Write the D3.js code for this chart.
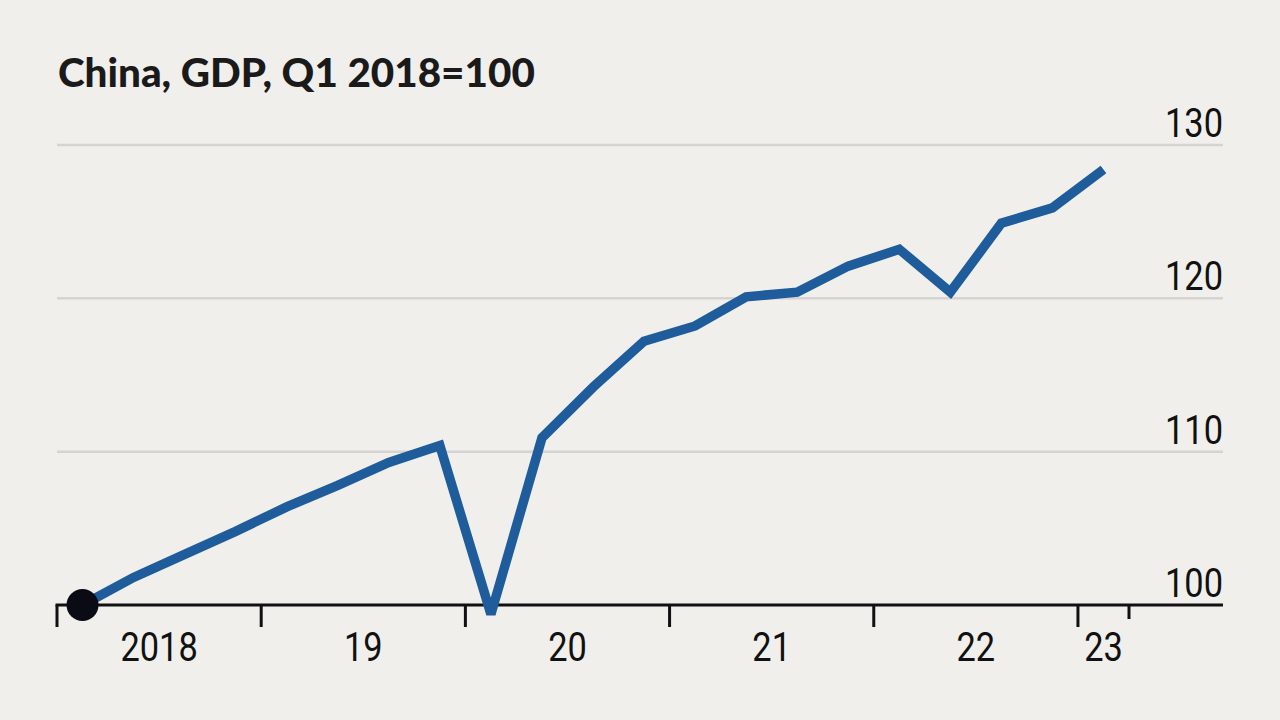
<!DOCTYPE html>
<html>
<head>
<meta charset="utf-8">
<script src="https://cdn.jsdelivr.net/npm/d3@7"></script>
<style>
  html, body { margin: 0; padding: 0; background: #f0efec; }
  svg { display: block; }
</style>
</head>
<body>
<svg id="chart" width="1280" height="720"></svg>
<script>
// ---- data ----
const title = "China, GDP, Q1 2018=100";
const quarters = ["Q1 2018","Q2 2018","Q3 2018","Q4 2018",
                  "Q1 2019","Q2 2019","Q3 2019","Q4 2019",
                  "Q1 2020","Q2 2020","Q3 2020","Q4 2020",
                  "Q1 2021","Q2 2021","Q3 2021","Q4 2021",
                  "Q1 2022","Q2 2022","Q3 2022","Q4 2022",
                  "Q1 2023"];
const gdpIndex = [100, 101.8, 103.3, 104.8,
                  106.4, 107.8, 109.3, 110.4,
                  99.4, 110.9, 114.2, 117.2,
                  118.2, 120.1, 120.4, 122.1,
                  123.2, 120.4, 124.9, 125.9,
                  128.4];
const yTicks = [100, 110, 120, 130];
const yearLabels = ["2018", "19", "20", "21", "22", "23"];
const yearStartQuarter = [0, 4, 8, 12, 16, 20];   // quarter index where each year starts

// ---- layout ----
const svg = d3.select("#chart");
const left = 57, right = 1223, plotEnd = 1129;
const axisY = 605, topY = 145;

const x = d3.scaleLinear().domain([0, quarters.length]).range([left, plotEnd]);
const y = d3.scaleLinear().domain([100, 130]).range([axisY, topY]);

svg.append("rect").attr("width", 1280).attr("height", 720).attr("fill", "#f0efec");

// title
const t = svg.append("text")
  .attr("x", 58).attr("y", 87)
  .attr("font-family", "Lato, 'Open Sans', sans-serif")
  .attr("font-weight", 900)
  .attr("font-size", 39)
  .attr("fill", "#1a1a1a")
  .text(title);
// fit title width to the reference's span
const tw = t.node().getComputedTextLength();
t.attr("font-size", 39 * 477 / tw);

// gridlines
svg.append("g").selectAll("line")
  .data(yTicks.filter(d => d !== 100))
  .join("line")
  .attr("x1", left).attr("x2", right)
  .attr("y1", d => y(d)).attr("y2", d => y(d))
  .attr("stroke", "#d5d4d1").attr("stroke-width", 2.5);

// y labels
const labelFont = "Roboto, 'Liberation Sans', sans-serif";
svg.append("g").selectAll("text")
  .data(yTicks)
  .join("text")
  .attr("transform", d => `translate(${right},${y(d) - 8}) scale(0.86,1)`)
  .attr("text-anchor", "end")
  .attr("font-family", labelFont)
  .attr("font-weight", 400)
  .attr("font-size", 40)
  .attr("fill", "#111")
  .text(d => d);

// x axis line
svg.append("line")
  .attr("x1", left - 1.5).attr("x2", right)
  .attr("y1", axisY).attr("y2", axisY)
  .attr("stroke", "#111").attr("stroke-width", 3);

// x ticks
const tickIdx = yearStartQuarter.concat([quarters.length]);
svg.append("g").selectAll("line")
  .data(tickIdx)
  .join("line")
  .attr("x1", d => x(d)).attr("x2", d => x(d))
  .attr("y1", axisY)
  .attr("y2", (d, i) => i === tickIdx.length - 1 ? 619 : 627)
  .attr("stroke", "#111").attr("stroke-width", 3);

// year labels centered within each year span
svg.append("g").selectAll("text")
  .data(yearLabels)
  .join("text")
  .attr("transform", (d, i) => {
    const s = yearStartQuarter[i];
    const e = Math.min(s + 4, quarters.length);
    return `translate(${x((s + e) / 2)},661) scale(0.86,1)`;
  })
  .attr("text-anchor", "middle")
  .attr("font-family", labelFont)
  .attr("font-weight", 400)
  .attr("font-size", 40)
  .attr("fill", "#111")
  .text(d => d);

// line
const line = d3.line()
  .x((d, i) => x(i + 0.5))
  .y(d => y(d));

svg.append("path")
  .datum(gdpIndex)
  .attr("d", line)
  .attr("fill", "none")
  .attr("stroke", "#1e5c9b")
  .attr("stroke-width", 9.5)
  .attr("stroke-linejoin", "miter")
  .attr("stroke-miterlimit", 3);

// starting dot
svg.append("circle")
  .attr("cx", x(0.5)).attr("cy", y(gdpIndex[0]))
  .attr("r", 16)
  .attr("fill", "#0b0b16");
</script>
</body>
</html>
